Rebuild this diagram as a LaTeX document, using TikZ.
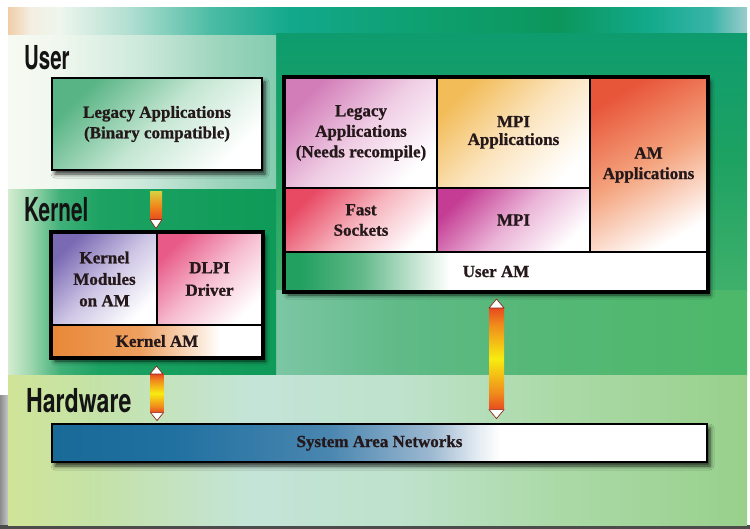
\documentclass[tikz,border=0pt]{standalone}
\usepackage{fontspec}
\usepackage{graphicx}
\setmainfont{Liberation Serif}[BoldFeatures={FakeBold=0.9}]
\newfontfamily\layerfont{TeX Gyre Heros}
\usetikzlibrary{calc,shadows.blur}

% background palette
\definecolor{tA}{HTML}{F0CDA8}\definecolor{tB}{HTML}{F4EEE0}\definecolor{tC}{HTML}{EEF6EE}
\definecolor{tD}{HTML}{B0DED0}\definecolor{tE}{HTML}{4CBCA4}\definecolor{tF}{HTML}{12A88C}
\definecolor{tG}{HTML}{0EA070}\definecolor{tH}{HTML}{0C965C}\definecolor{tI}{HTML}{12AA8C}
\definecolor{tJ}{HTML}{38B4A8}\definecolor{tK}{HTML}{9CCCCC}
\definecolor{uA}{HTML}{F6FAF2}\definecolor{uB}{HTML}{F0F7EE}\definecolor{uC}{HTML}{CDE9DC}
\definecolor{uD}{HTML}{9CD4BC}\definecolor{uE}{HTML}{84CCB0}
\definecolor{kA}{HTML}{D4ECD0}\definecolor{kB}{HTML}{A0D8B0}\definecolor{kC}{HTML}{40B078}
\definecolor{kD}{HTML}{1CA262}\definecolor{kE}{HTML}{0E9A58}
\definecolor{hA}{HTML}{D0E498}\definecolor{hB}{HTML}{C4E2A8}\definecolor{hC}{HTML}{C4E4D8}
\definecolor{hD}{HTML}{BEE2CC}\definecolor{hE}{HTML}{ACDAA8}\definecolor{hF}{HTML}{98D08C}
\definecolor{rTop}{HTML}{0E9C6E}\definecolor{rMid}{HTML}{1EA262}\definecolor{rBot}{HTML}{40B06C}
\definecolor{lA}{HTML}{7CC6A4}\definecolor{lB}{HTML}{60BA88}\definecolor{lC}{HTML}{56B878}
\definecolor{lD}{HTML}{4CB868}
% box palette
\definecolor{ink}{HTML}{24181A}
\definecolor{cGreen}{HTML}{58B484}\definecolor{cGreenM}{HTML}{C4E6D2}
\definecolor{cPink}{HTML}{D27CB8}\definecolor{cPinkM}{HTML}{EFCDE4}
\definecolor{cGold}{HTML}{F2BC58}\definecolor{cGoldM}{HTML}{FBE4BE}
\definecolor{cRed}{HTML}{E8563A}\definecolor{cRedM}{HTML}{F4A47E}
\definecolor{cRose}{HTML}{E84A64}\definecolor{cRoseM}{HTML}{F6B4BE}
\definecolor{cMag}{HTML}{C43C94}\definecolor{cMagM}{HTML}{EAB2D6}
\definecolor{cLav}{HTML}{7A6AB4}\definecolor{cLavM}{HTML}{CCC4E4}
\definecolor{cDlpi}{HTML}{E85A88}\definecolor{cDlpiM}{HTML}{F6BCD0}
\definecolor{sA}{HTML}{1A6A98}\definecolor{sB}{HTML}{2070A0}\definecolor{sC}{HTML}{4A86B0}
\definecolor{sD}{HTML}{9CB8D0}\definecolor{sE}{HTML}{E8EEF4}
\definecolor{gA}{HTML}{22A060}\definecolor{gB}{HTML}{60B888}\definecolor{gC}{HTML}{CDE8D8}
\definecolor{oA}{HTML}{E88838}\definecolor{oB}{HTML}{EEA060}\definecolor{oC}{HTML}{FBE6D4}
\definecolor{arrRed}{HTML}{E84A1E}\definecolor{arrOrange}{HTML}{F08A1C}
\definecolor{arrYellow}{HTML}{F8EC10}\definecolor{arrTop}{HTML}{D8D040}
\definecolor{tipEdge}{HTML}{8A2A1A}

\pgfdeclarehorizontalshading{bandTop}{100bp}{color(0bp)=(tA); color(25bp)=(tA);
  color(26.5bp)=(tB); color(28.5bp)=(tC); color(33.3bp)=(tD); color(38.7bp)=(tE);
  color(44.1bp)=(tF); color(52.9bp)=(tG); color(62.3bp)=(tH); color(68.4bp)=(tI);
  color(72.5bp)=(tJ); color(75bp)=(tK); color(100bp)=(tK)}
\pgfdeclarehorizontalshading{bandUser}{100bp}{color(0bp)=(uA); color(25bp)=(uA);
  color(34.7bp)=(uB); color(49.6bp)=(uC); color(64.6bp)=(uD); color(75bp)=(uE); color(100bp)=(uE)}
\pgfdeclarehorizontalshading{bandKernel}{100bp}{color(0bp)=(kA); color(25bp)=(kA);
  color(29bp)=(kB); color(34.7bp)=(kC); color(42.2bp)=(kD); color(75bp)=(kE); color(100bp)=(kE)}
\pgfdeclarehorizontalshading{bandHw}{100bp}{color(0bp)=(hA); color(25bp)=(hA);
  color(31.2bp)=(hB); color(41.4bp)=(hC); color(51.5bp)=(hD); color(61.7bp)=(hE);
  color(75bp)=(hF); color(100bp)=(hF)}
\pgfdeclarehorizontalshading{bandLow}{100bp}{color(0bp)=(lA); color(25bp)=(lA);
  color(38bp)=(lB); color(51bp)=(lC); color(75bp)=(lD); color(100bp)=(lD)}
\pgfdeclarehorizontalshading{sanFill}{100bp}{color(0bp)=(sA); color(25bp)=(sA);
  color(34bp)=(sB); color(46.2bp)=(sC); color(53.9bp)=(sD); color(57.7bp)=(sE);
  color(59.2bp)=(white); color(100bp)=(white)}
\pgfdeclarehorizontalshading{userAmFill}{100bp}{color(0bp)=(gA); color(26.8bp)=(gA);
  color(33.9bp)=(gB); color(41bp)=(gC); color(44.5bp)=(white); color(100bp)=(white)}
\pgfdeclarehorizontalshading{kernelAmFill}{100bp}{color(0bp)=(oA); color(25bp)=(oA);
  color(46bp)=(oB); color(60.2bp)=(oC); color(65bp)=(white); color(100bp)=(white)}
\pgfdeclareverticalshading{dblBar}{100bp}{color(0bp)=(arrRed); color(25bp)=(arrRed);
  color(33bp)=(arrOrange); color(50bp)=(arrYellow); color(67bp)=(arrOrange);
  color(75bp)=(arrRed); color(100bp)=(arrRed)}

\begin{document}
\begin{tikzpicture}[x=1pt,y=-1pt,
  cell/.style={draw=black, line width=2pt, inner sep=0pt, align=center, text=ink,
    font=\bfseries\fontsize{17}{20.5}\selectfont},
  diag/.style 2 args={top color=#1, bottom color=white, middle color=#2, shading angle=45},
  frame/.style={fill=white, draw=black, line width=2.8pt, inner sep=0pt,
    blur shadow={shadow xshift=3pt, shadow yshift=-4pt, shadow blur radius=4pt, shadow opacity=80}},
  rim/.style={draw=black, line width=2.8pt},
  layer/.style={anchor=base west, inner sep=0pt, text=black!92,
    font=\layerfont\bfseries\fontsize{33}{33}\selectfont},
  tip/.style={fill=white, draw=tipEdge, line width=0.7pt, line join=round}]

\useasboundingbox (0,0) rectangle (750,529);

% ---- backdrop ----
\fill[white] (0,0) rectangle (750,529);
\fill[left color=black!45, right color=black!22] (0,395) rectangle (8,525);
\fill[black!70] (0,525) rectangle (750,529);
\shade[shading=bandTop] (8,8) rectangle (747,36);
\shade[top color=rTop, bottom color=rBot, middle color=rMid] (276,34) rectangle (747,291);
\shade[shading=bandLow] (276,291) rectangle (747,376);
\shade[shading=bandUser] (8,36) rectangle (276,190);
\shade[shading=bandKernel] (8,190) rectangle (276,376);
\shade[shading=bandHw] (8,376) rectangle (747,525);

% ---- user level ----
\node[cell, frame, diag={cGreen}{cGreenM}, line width=2.8pt,
  minimum width=210pt, minimum height=92pt] (legacyBin) at (157,124)
  {Legacy Applications\\(Binary compatible)};

% ---- kernel level ----
\node[frame, minimum width=210pt, minimum height=124pt] (kgroup) at (157,295) {};
\node[cell, diag={cLav}{cLavM}, minimum width=105pt, minimum height=92pt] (kmod) at (104.5,279)
  {Kernel\\[1pt]Modules\\[1pt]on AM};
\node[cell, diag={cDlpi}{cDlpiM}, minimum width=105pt, minimum height=92pt] (dlpi) at (209.5,279)
  {DLPI\\[2pt]Driver};
\node[cell, shading=kernelAmFill, minimum width=210pt, minimum height=32pt] (kAM) at (157,341)
  {Kernel AM};
\draw[rim] (kgroup.north west) rectangle (kgroup.south east);

% ---- user-level communication stack ----
\node[frame, minimum width=422pt, minimum height=213pt] (ugroup) at (496,184.5) {};
\node[cell, diag={cPink}{cPinkM}, minimum width=152pt, minimum height=110pt] (legacyRe) at (361,133)
  {Legacy\\Applications\\(Needs recompile)};
\node[cell, diag={cGold}{cGoldM}, minimum width=153pt, minimum height=110pt] (mpiApps) at (513.5,133)
  {\raisebox{5pt}{\shortstack{MPI\\[3pt]Applications}}};
\node[cell, diag={cRed}{cRedM}, shading angle=30, minimum width=117pt, minimum height=174pt] (amApps) at (648.5,165)
  {AM\\Applications};
\node[cell, diag={cRose}{cRoseM}, minimum width=152pt, minimum height=64pt] (fastSock) at (361,220)
  {Fast\\Sockets};
\node[cell, diag={cMag}{cMagM}, minimum width=153pt, minimum height=64pt] (mpi) at (513.5,220)
  {MPI};
\node[cell, shading=userAmFill, minimum width=422pt, minimum height=39pt] (userAM) at (496,271.5)
  {User AM};
\draw[rim] (ugroup.north west) rectangle (ugroup.south east);

% ---- hardware level ----
\node[cell, frame, shading=sanFill, minimum width=655pt, minimum height=38pt] (san) at (379.5,443)
  {System Area Networks};

% ---- connectors ----
% user application down to the kernel
\coordinate (a1top) at ($(legacyBin.south)+(-1,20)$);
\coordinate (a1tip) at ($(kgroup.north)+(-1,-3)$);
\shade[top color=arrTop, bottom color=arrRed, middle color=arrOrange]
  ($(a1top)+(-6,0)$) rectangle ($(a1tip)+(6,-9)$);
\path[tip] ($(a1tip)+(-6,-9)$) -- ($(a1tip)+(6,-9)$) -- (a1tip) -- cycle;

% kernel AM to the network
\coordinate (a2top) at ($(kAM.south)+(-0.5,8)$);
\coordinate (a2bot) at ($(san.north)+(-222.5,-2)$);
\shade[shading=dblBar] ($(a2top)+(-6.5,8)$) rectangle ($(a2bot)+(6.5,-8)$);
\path[tip] ($(a2top)+(-6.5,8)$) -- ($(a2top)+(6.5,8)$) -- (a2top) -- cycle;
\path[tip] ($(a2bot)+(-6.5,-8)$) -- ($(a2bot)+(6.5,-8)$) -- (a2bot) -- cycle;

% user AM to the network
\coordinate (a3top) at ($(userAM.south)+(0.5,7)$);
\coordinate (a3bot) at ($(san.north)+(117,-4)$);
\shade[shading=dblBar] ($(a3top)+(-7.5,9)$) rectangle ($(a3bot)+(7.5,-9)$);
\path[tip] ($(a3top)+(-7.5,9)$) -- ($(a3top)+(7.5,9)$) -- (a3top) -- cycle;
\path[tip] ($(a3bot)+(-7.5,-9)$) -- ($(a3bot)+(7.5,-9)$) -- (a3bot) -- cycle;

% ---- layer labels ----
\node[layer] (lblUser) at (24,70) {\scalebox{0.62}[1]{User}};
\node[layer] (lblKernel) at (24,222) {\scalebox{0.63}[1]{Kernel}};
\node[layer] (lblHw) at (26,413) {\scalebox{0.7}[1]{Hardware}};
\end{tikzpicture}
\end{document}
